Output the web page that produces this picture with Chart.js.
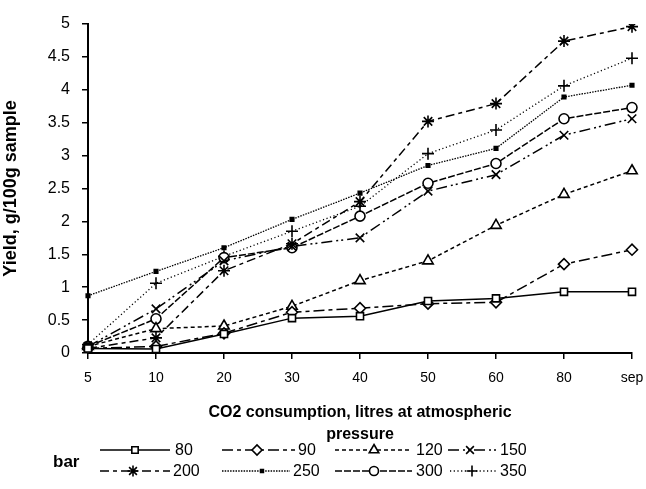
<!DOCTYPE html>
<html>
<head>
<meta charset="utf-8">
<script src="https://cdn.jsdelivr.net/npm/chart.js@4"></script>
<style>
  html, body { margin: 0; padding: 0; background: #fff; }
  #wrap { width: 646px; height: 489px; }
</style>
</head>
<body>
<div id="wrap"><canvas id="yieldChart" width="646" height="489"></canvas></div>
<script>
        // CO2 consumption categories and yields per pressure (bar)
        const consumption = ['5', '10', '20', '30', '40', '50', '60', '80', 'sep'];
        const yTicks = [0, 0.5, 1, 1.5, 2, 2.5, 3, 3.5, 4, 4.5, 5];

        const bar80  = [0.07, 0.06, 0.29, 0.53, 0.56, 0.79, 0.83, 0.93, 0.93];
        const bar90  = [0.07, 0.10, 0.30, 0.62, 0.68, 0.75, 0.77, 1.35, 1.57];
        const bar120 = [0.10, 0.37, 0.41, 0.71, 1.10, 1.40, 1.94, 2.41, 2.77];
        const bar150 = [0.10, 0.67, 1.40, 1.62, 1.75, 2.46, 2.71, 3.31, 3.56];
        const bar200 = [0.07, 0.23, 1.25, 1.66, 2.30, 3.52, 3.79, 4.74, 4.96];
        const bar250 = [0.87, 1.24, 1.60, 2.03, 2.43, 2.85, 3.11, 3.89, 4.07];
        const bar300 = [0.10, 0.52, 1.45, 1.60, 2.08, 2.58, 2.88, 3.56, 3.73];
        const bar350 = [0.13, 1.06, 1.47, 1.85, 2.23, 3.03, 3.39, 4.06, 4.48];

        const FONT = '"Liberation Sans", Arial, sans-serif';

        function series(label, data, dash, pointStyle, radius, filled, width) {
            return {
                label: label,
                data: data,
                borderColor: '#000',
                borderWidth: width || 1.5,
                borderDash: dash,
                pointStyle: pointStyle,
                pointRadius: radius,
                pointBorderWidth: 1.6,
                pointBorderColor: '#000',
                pointBackgroundColor: filled ? '#000' : '#fff',
                fill: false,
                tension: 0
            };
        }

        const datasets = [
            series('80', bar80, [], 'rect', 5, false),
            series('90', bar90, [11, 4, 4, 4], 'rectRot', 5.5, false),
            series('120', bar120, [4, 3], 'triangle', 6, false),
            series('150', bar150, [11, 4, 2, 3, 2, 4], 'crossRot', 6, false),
            series('200', bar200, [9, 4, 4, 4], 'star', 6, false),
            series('250', bar250, [1.5, 1.2], 'rect', 2.5, true, 1.3),
            series('300', bar300, [7, 2], 'circle', 5, false),
            series('350', bar350, [1.2, 2.5], 'cross', 6, false, 1.3)
        ];

        // legend drawn by hand: [line start, line end, marker x, text x] per item
        const legendSlots = [
            [100, 170, 135, 175], [222, 295, 257, 298], [335, 412, 374, 416], [448, 498, 470, 500],
            [100, 170, 133, 173], [222, 290, 262, 293], [335, 412, 374, 416], [450, 497, 472, 500]
        ];
        const legendRows = [450, 471];

        const sampleLegend = {
            id: 'sampleLegend',
            afterDraw(chart) {
                const ctx = chart.ctx;
                ctx.save();
                ctx.fillStyle = '#000';
                ctx.textBaseline = 'middle';
                ctx.font = 'bold 17px ' + FONT;
                ctx.fillText('bar', 53, 462);
                ctx.font = '16px ' + FONT;
                chart.data.datasets.forEach(function(ds, i) {
                    const s = legendSlots[i];
                    const y = legendRows[Math.floor(i / 4)];
                    ctx.strokeStyle = '#000';
                    ctx.lineWidth = ds.borderWidth;
                    ctx.setLineDash(ds.borderDash);
                    ctx.beginPath();
                    ctx.moveTo(s[0], y);
                    ctx.lineTo(s[1], y);
                    ctx.stroke();
                    ctx.setLineDash([]);
                    ctx.lineWidth = ds.pointBorderWidth;
                    ctx.fillStyle = ds.pointBackgroundColor;
                    Chart.helpers.drawPoint(ctx, {
                        pointStyle: ds.pointStyle,
                        radius: ds.pointRadius - 0.5,
                        rotation: 0,
                        borderWidth: ds.pointBorderWidth
                    }, s[2], y);
                    ctx.fillStyle = '#000';
                    ctx.fillText(ds.label, s[3], y + 1);
                });
                ctx.restore();
            }
        };

        const ctx = document.getElementById('yieldChart').getContext('2d');
        new Chart(ctx, {
            type: 'line',
            data: { labels: consumption, datasets: datasets },
            options: {
                responsive: false,
                animation: false,
                layout: { padding: { left: 0, right: 14, top: 24, bottom: 44 } },
                plugins: {
                    legend: { display: false },
                    tooltip: { enabled: false }
                },
                scales: {
                    x: {
                        offset: false,
                        afterFit: function(scale) { scale.paddingRight = 0; scale.paddingLeft = 0; },
                        grid: { display: true, drawOnChartArea: false, tickLength: 6, color: '#000', lineWidth: 1.5 },
                        border: { color: '#000', width: 2 },
                        ticks: {
                            color: '#000',
                            padding: 11,
                            maxRotation: 0,
                            autoSkip: false,
                            font: { family: FONT, size: 14 }
                        },
                        title: {
                            display: true,
                            text: ['CO2 consumption, litres at atmospheric', 'pressure'],
                            color: '#000',
                            padding: { top: 4, bottom: 0 },
                            font: { family: FONT, size: 16, weight: 'bold', lineHeight: 1.35 }
                        }
                    },
                    y: {
                        min: 0,
                        max: 5,
                        afterBuildTicks: function(scale) {
                            scale.ticks = yTicks.map(v => ({ value: v }));
                        },
                        afterFit: function(scale) { scale.width = 88; },
                        grid: { display: true, drawOnChartArea: false, tickLength: 6, color: '#000', lineWidth: 1.5 },
                        border: { color: '#000', width: 2 },
                        ticks: {
                            color: '#000',
                            padding: 12,
                            callback: function(value) { return String(value); },
                            font: { family: FONT, size: 16 }
                        },
                        title: {
                            display: true,
                            text: 'Yield, g/100g sample',
                            color: '#000',
                            padding: { top: 0, bottom: 4 },
                            font: { family: FONT, size: 18, weight: 'bold' }
                        }
                    }
                }
            },
            plugins: [sampleLegend]
        });
</script>
</body>
</html>
